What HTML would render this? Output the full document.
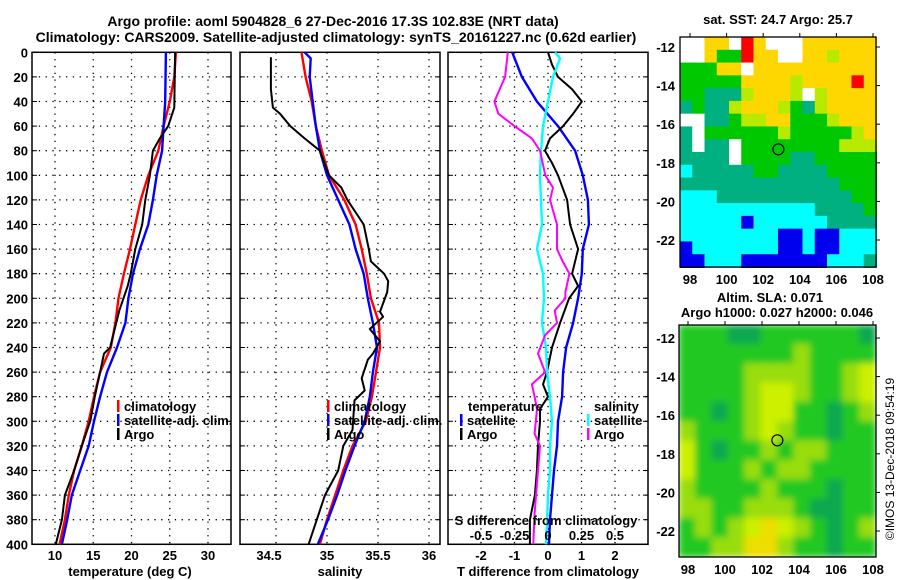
<!DOCTYPE html>
<html><head><meta charset="utf-8"><style>
html,body{margin:0;padding:0;background:#fff;}
svg{display:block;font-family:"Liberation Sans",Arial,sans-serif;font-weight:bold;}
</style></head><body>
<svg id="c" width="900" height="580" viewBox="0 0 900 580" xmlns="http://www.w3.org/2000/svg"></svg>
<script>
// ---- data ----
const tClimDepth=[0,20,40,60,80,100,120,140,160,180,200,220,240,260,280,300,320,340,360,380,400];
const tClimVal=[25.8,25.6,25.0,24.2,23.5,22.2,21.2,20.5,19.8,19.0,18.3,17.9,17.3,15.9,15.1,14.4,13.5,12.5,11.8,11.3,10.6];
const tSatDepth=[0,40,60,80,100,120,140,160,180,200,220,240,260,280,300,320,340,360,380,400];
const tSatVal=[24.5,24.4,24.2,24.0,23.3,22.8,22.2,21.1,20.2,19.6,19.2,18.1,16.8,15.9,15.1,14.4,13.3,12.2,11.6,10.9];
const tArgoDepth=[0,45,60,70,80,100,120,140,160,180,190,210,240,245,260,280,300,320,340,360,380,400];
const tArgoVal=[25.7,25.6,24.8,23.7,22.8,22.4,21.8,21.4,20.5,19.9,19.5,18.4,17.2,16.4,15.9,15.2,14.6,13.5,12.5,11.3,10.9,10.1];
const sClimDepth=[0,20,40,60,80,100,120,140,160,180,200,220,240,260,280,300,320,340,360,380,400];
const sClimVal=[34.75,34.79,34.85,34.89,34.95,35.02,35.17,35.28,35.34,35.39,35.43,35.51,35.52,35.48,35.44,35.38,35.25,35.16,35.08,35.00,34.93];
const sSatDepth=[0,5,20,40,60,80,100,120,140,160,180,200,220,240,260,280,300,320,340,360,380,400];
const sSatVal=[34.78,34.84,34.83,34.86,34.89,34.93,35.00,35.11,35.22,35.28,35.36,35.40,35.45,35.49,35.45,35.42,35.37,35.27,35.18,35.10,35.01,34.91];
const sArgoDepth=[4,30,45,50,60,70,80,100,110,120,140,160,170,180,186,195,211,215,225,235,245,250,265,275,283,307,320,340,360,380,400];
const sArgoVal=[34.45,34.45,34.47,34.54,34.64,34.78,34.93,35.02,35.14,35.20,35.36,35.41,35.43,35.56,35.60,35.59,35.52,35.55,35.42,35.52,35.45,35.40,35.34,35.37,35.27,35.25,35.16,35.11,34.98,34.90,34.82];
const dTSatDepth=[0,20,40,60,80,100,120,140,160,180,200,220,240,260,280,300,320,340,360,380,400];
const dTSatVal=[-1.07,-0.78,-0.33,0.30,0.81,1.04,1.19,1.22,1.04,1.01,0.90,0.75,0.54,0.45,0.42,0.30,0.27,0.18,0.12,0.06,0.03];
const dTArgoDepth=[0,10,20,30,40,50,60,70,80,90,100,120,140,160,180,190,200,220,240,260,270,280,290,300,320,340,360,380,400];
const dTArgoVal=[0,0.12,0.30,0.72,1.01,0.75,0.45,0.06,-0.09,0.12,0.30,0.57,0.66,0.90,0.72,0.90,0.63,0.36,0.12,-0.03,-0.15,0,-0.24,-0.24,-0.30,-0.33,-0.39,-0.54,-0.54];
const dSSatDepth=[0,5,20,40,60,80,100,120,140,160,180,200,220,240,260,280,300,320,340,360,380,400];
const dSSatVal=[0.052,0.09,0.037,0,-0.037,-0.052,-0.06,-0.052,-0.045,-0.082,-0.037,-0.03,-0.045,-0.015,-0.007,0.015,0.03,0.015,0.015,0,-0.007,-0.015];
const dSArgoDepth=[0,20,40,50,60,70,80,100,110,120,140,160,170,180,195,200,210,220,230,245,260,270,280,290,310,320,350,375,400];
const dSArgoVal=[-0.30,-0.32,-0.40,-0.37,-0.25,-0.12,-0.06,-0.02,0.037,0.015,0.067,0.067,0.11,0.16,0.13,0.13,0.05,0.067,-0.022,-0.075,-0.022,-0.12,-0.10,-0.082,-0.10,-0.06,-0.082,-0.10,-0.11];
const depthTicks=[0,20,40,60,80,100,120,140,160,180,200,220,240,260,280,300,320,340,360,380,400];
const tTicks=[10,15,20,25,30];
const sTicks=[34.5,35,35.5,36];
const dTTicks=[-2,-1,0,1,2];
const dSTicks=[-0.5,-0.25,0,0.25,0.5];
const dSTickLabels=["-0.5","-0.25","0","0.25","0.5"];
const lonTicks=[98,100,102,104,106,108];
const latTicks=[-12,-14,-16,-18,-20,-22];
const argoLon=102.83, argoLat=-17.3;
const sstRows=[
"WWYYWRYWWWYYYYYY",
"WWYGGRYYWWYYLYYY",
"GGGYYWYYYYYYYYYY",
"GGGGGYYYYLYYYYRY",
"GGDDDLYYYLWLYYYY",
"DGDDLYYYLGDLYYYY",
"WWDDGLLYYGGGLYYY",
"DWGGGGGGLGGGGGLY",
"DWDDWGGGGGGGGLLL",
"DDDDWGGGGDDGGGGG",
"CDDDDDGGDDDDGGGG",
"DDDDDDDDDDDDDGGG",
"CCCDDDDDDDDDDDGG",
"CCCCCCCCCCCDDDDG",
"CCCCCBCCCCCCDDDD",
"CCCCCCCCBBCBBCCC",
"BCCCCCCCBBCBBCCC",
"BBCCCBBBBBBBCCCD"];
const slaRows=[
"GGGDDGGGGGGD",
"GGGGGGGLGGGG",
"GGGGLLLLGGLY",
"GGGGLYYLGGLY",
"GGDGLYYGGDGL",
"LGGGLYLGGDGG",
"YGDGGLGLLGGG",
"YGGGLGLLGGGG",
"LGGGGLGGGDGG",
"LLGGLLLGDDGG",
"GLGLYOYLGDGL",
"GGLLOOLGGDGG"];
const sstColors={W:"#ffffff",R:"#ff0000",Y:"#ffd700",L:"#b8ea00",G:"#00c800",D:"#00b080",C:"#00ffff",B:"#0000ee"};
const slaColors={G:"#22c822",D:"#10a850",L:"#99dd11",Y:"#ccf000",O:"#eedd00"};

// ---- drawing ----
const NS="http://www.w3.org/2000/svg";
const svg=document.getElementById('c');
function el(tag,attrs,parent){const e=document.createElementNS(NS,tag);for(const k in attrs)e.setAttribute(k,attrs[k]);(parent||svg).appendChild(e);return e;}
function txt(s,x,y,anchor,size,parent){const t=el('text',{x:x,y:y,'text-anchor':anchor||'middle','font-size':size||13},parent);t.textContent=s;return t;}

const Y0=52.3,Y1=544.3;
const yD=d=>Y0+d*(Y1-Y0)/400;
const xT=v=>55+(v-10)*7.65;
const xS=v=>276+(v-34.5)*102;
const xDT=v=>548+v*33.5;
const xDS=v=>548+v*134;

const panels=[{x0:32,x1:231,name:'temperature-panel'},{x0:240,x1:440,name:'salinity-panel'},{x0:448,x1:648,name:'difference-panel'}];

function panelFrame(p,xticks,xf){
  const g=el('g',{});
  
  
  depthTicks.forEach(d=>{ if(d>0&&d<400){const l=el('line',{x1:p.x0,x2:p.x1,y1:yD(d),y2:yD(d),stroke:'#000','stroke-width':1.3,'stroke-dasharray':'1.3,5.5'},g);}
    el('line',{x1:p.x0,x2:p.x0+5,y1:yD(d),y2:yD(d),stroke:'#000','stroke-width':1},g);
    el('line',{x1:p.x1,x2:p.x1-5,y1:yD(d),y2:yD(d),stroke:'#000','stroke-width':1},g);});
  xticks.forEach(v=>{const x=xf(v);const l=el('line',{x1:x,x2:x,y1:Y0,y2:Y1,stroke:'#000','stroke-width':1.3,'stroke-dasharray':'1.3,5.5'},g);});
  const r=el('rect',{x:p.x0,y:Y0,width:p.x1-p.x0,height:Y1-Y0,fill:'none',stroke:'#000','stroke-width':1.5},g);
  
  return g;
}
function line(depths,vals,xf,color,name,w){
  const pts=depths.map((d,i)=>xf(vals[i]).toFixed(1)+','+yD(d).toFixed(1)).join(' ');
  const l=el('polyline',{points:pts,fill:'none',stroke:color,'stroke-width':w||2.4,'stroke-linejoin':'round'});
  
  
}

// titles
const t1=txt('Argo profile: aoml 5904828_6 27-Dec-2016 17.3S 102.83E (NRT data)',333,26,'middle',14);

const t2=txt('Climatology: CARS2009. Satellite-adjusted climatology: synTS_20161227.nc (0.62d earlier)',336,42,'middle',14);


// y labels
depthTicks.forEach(d=>{const t=txt(String(d),28,yD(d)+5,'end',13);});

// panel 1
panelFrame(panels[0],tTicks,xT);
tTicks.forEach(v=>{const t=txt(String(v),xT(v),560,'middle',13);});
const xl1=txt('temperature (deg C)',130,576,'middle',13);
line(tClimDepth,tClimVal,xT,'#ff0000','temperature-climatology-line');
line(tSatDepth,tSatVal,xT,'#0000ff','temperature-satellite-line');
line(tArgoDepth,tArgoVal,xT,'#000000','temperature-argo-line',2);

// panel 2
panelFrame(panels[1],sTicks,xS);
sTicks.forEach(v=>{const t=txt(String(v),xS(v)-(v===34.5?7:0),560,'middle',13);});
const xl2=txt('salinity',340,576,'middle',13);
line(sClimDepth,sClimVal,xS,'#ff0000','salinity-climatology-line');
line(sSatDepth,sSatVal,xS,'#0000ff','salinity-satellite-line');
line(sArgoDepth,sArgoVal,xS,'#000000','salinity-argo-line',2);

// panel 3
panelFrame(panels[2],dTTicks,xDT);
dTTicks.forEach(v=>{const t=txt(String(v),xDT(v),560,'middle',13);});
const xl3=txt('T difference from climatology',548,576,'middle',13);
line(dTSatDepth,dTSatVal,xDT,'#0000ff','tdiff-satellite-line');
line(dTArgoDepth,dTArgoVal,xDT,'#000000','tdiff-argo-line',2);
line(dSSatDepth,dSSatVal,xDS,'#00ffff','sdiff-satellite-line');
line(dSArgoDepth,dSArgoVal,xDS,'#ff00ff','sdiff-argo-line',2);
const sdl=txt('S difference from climatology',546,525,'middle',13);
dSTicks.forEach((v,i)=>{const t=txt(dSTickLabels[i],xDS(v),540,'middle',13);});

// legends
function legend(x,y,color,label,name){
  const g=el('g',{});
  el('rect',{x:x,y:y-11,width:2.5,height:12,fill:color},g);
  txt(label,x+7,y,'start',13,g);
}
legend(117,411,'#ff0000','climatology','legend-climatology');
legend(117,425,'#0000ff','satellite-adj. clim.','legend-satellite-adj');
legend(117,439,'#000000','Argo','legend-argo');
legend(327,411,'#ff0000','climatology','legend-climatology-2');
legend(327,425,'#0000ff','satellite-adj. clim.','legend-satellite-adj-2');
legend(327,439,'#000000','Argo','legend-argo-2');
const lt=txt('temperature',468,411,'start',13);
legend(460,425,'#0000ff','satellite','legend-t-satellite');
legend(460,439,'#000000','Argo','legend-t-argo');
const ls=txt('salinity',594,411,'start',13);
legend(587,425,'#00ffff','satellite','legend-s-satellite');
legend(587,439,'#ff00ff','Argo','legend-s-argo');

// maps
function map(box,lonA,latA,rows,colors,name,blur){
  const g=el('g',{});
  const xL=lon=>lonA.x98+(lon-98)*lonA.k;
  const yL=lat=>latA.y12+(-12-lat)*latA.k;
  const inner=el('g',blur?{filter:'url(#bl)', 'clip-path':'url(#'+name+'-clip)'}:{},g);
  if(blur){const cp=el('clipPath',{id:name+'-clip'});el('rect',{x:box.x0,y:box.y0,width:box.x1-box.x0,height:box.y1-box.y0},cp);}
  const nr=rows.length,nc=rows[0].length,cw=(box.x1-box.x0)/nc,ch=(box.y1-box.y0)/nr;
  rows.forEach((r,i)=>{for(let j=0;j<nc;j++){const c=el('rect',{x:box.x0+j*cw-(blur?0.5:0),y:box.y0+i*ch-(blur?0.5:0),width:cw+1,height:ch+1,fill:colors[r[j]]},inner);}});
  el('rect',{x:box.x0,y:box.y0,width:box.x1-box.x0,height:box.y1-box.y0,fill:'none',stroke:'#000','stroke-width':1.3},g);
  lonTicks.forEach(v=>{const x=xL(v);el('line',{x1:x,x2:x,y1:box.y0,y2:box.y0-4,stroke:'#000'},g);
    const t=txt(String(v),x,box.y1+17,'middle',13,g);});
  latTicks.forEach(v=>{const y=yL(v);el('line',{x1:box.x1,x2:box.x1+4,y1:y,y2:y,stroke:'#000'},g);
    const t=txt(String(v),675,y+5,'end',13,g);});
  const c=el('circle',{cx:xL(argoLon),cy:yL(argoLat),r:5.5,fill:'none',stroke:'#000','stroke-width':1.2},g);
  
}
const defs=el('defs',{});
const f=el('filter',{id:'bl',x:'-5%',y:'-5%',width:'110%',height:'110%'},defs);
el('feGaussianBlur',{stdDeviation:3.5,'edge-mode':'duplicate'},f);
map({x0:680,x1:876,y0:37,y1:267},{x98:690,k:18.3},{y12:47,k:19.3},sstRows,sstColors,'sst-map',false);
map({x0:679,x1:876,y0:325,y1:557},{x98:688,k:18.5},{y12:338,k:19.3},slaRows,slaColors,'sla-map',true);
const m1=txt('sat. SST: 24.7 Argo: 25.7',778,24,'middle',13);
const m2=txt('Altim. SLA: 0.071',770,302,'middle',13);
const m3=txt('Argo h1000: 0.027 h2000: 0.046',777,317,'middle',13);
const cr=txt('©IMOS 13-Dec-2018 09:54:19',0,0,'middle',12);
cr.setAttribute('transform','translate(894,459) rotate(-90)');cr.setAttribute('font-weight','normal');

</script>
</body></html>
